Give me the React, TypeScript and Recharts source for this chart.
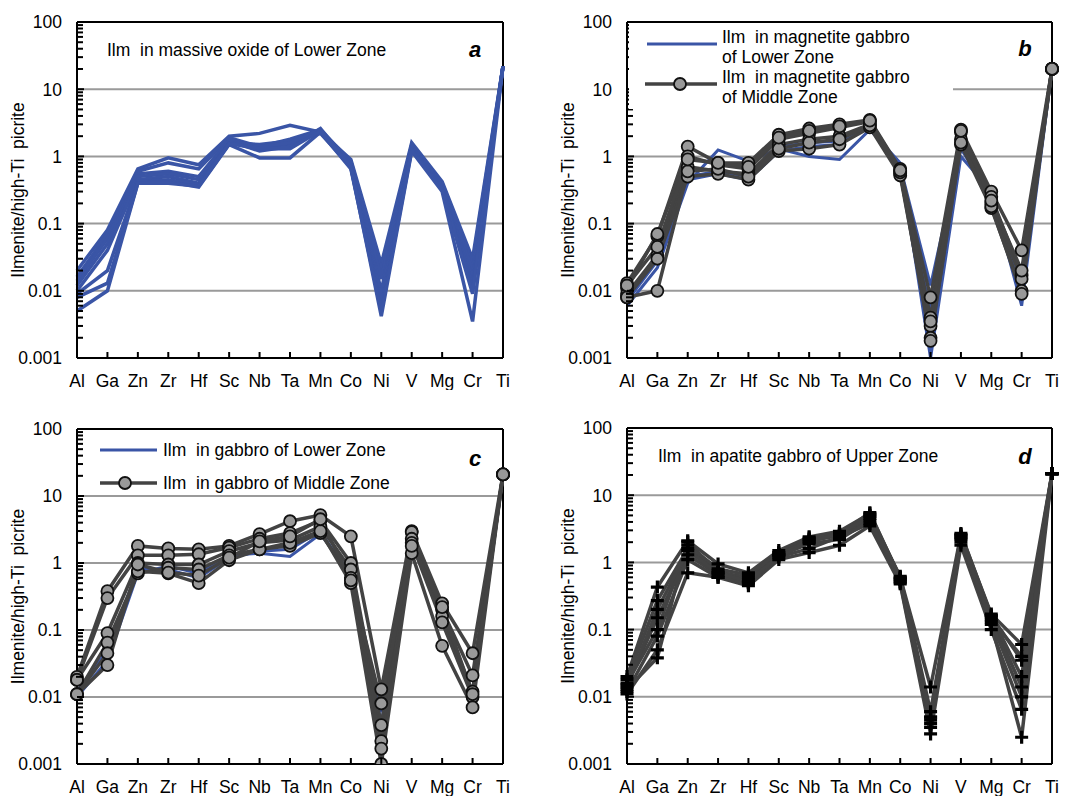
import React from "react";
import { LineChart, Line, XAxis, YAxis, ReferenceLine } from "recharts";

const elements = ["Al", "Ga", "Zn", "Zr", "Hf", "Sc", "Nb", "Ta", "Mn", "Co", "Ni", "V", "Mg", "Cr", "Ti"];
const majorTicks = [0.001, 0.01, 0.1, 1, 10, 100];
const gridValues = [0.01, 0.1, 1, 10];

// a: Ilm in massive oxide of Lower Zone
const massiveOxideLZ = [
  [0.02, 0.08, 0.65, 0.95, 0.75, 2.0, 2.2, 2.9, 2.3, 0.9, 0.025, 1.6, 0.42, 0.03, 22],
  [0.016, 0.07, 0.6, 0.8, 0.65, 1.9, 1.4, 1.8, 2.5, 0.85, 0.02, 1.5, 0.4, 0.025, 22],
  [0.014, 0.06, 0.55, 0.6, 0.5, 1.8, 1.3, 1.5, 2.4, 0.8, 0.015, 1.45, 0.38, 0.02, 22],
  [0.012, 0.05, 0.5, 0.55, 0.45, 1.7, 1.2, 1.4, 2.6, 0.75, 0.01, 1.4, 0.36, 0.015, 22],
  [0.01, 0.04, 0.45, 0.5, 0.4, 1.6, 1.5, 1.7, 2.2, 0.7, 0.008, 1.35, 0.35, 0.012, 22],
  [0.009, 0.02, 0.42, 0.45, 0.38, 1.55, 1.4, 1.6, 2.5, 0.68, 0.006, 1.3, 0.33, 0.01, 22],
  [0.008, 0.013, 0.4, 0.42, 0.35, 1.5, 0.95, 0.95, 2.3, 0.65, 0.005, 1.25, 0.32, 0.009, 22],
  [0.005, 0.01, 0.4, 0.4, 0.36, 1.55, 1.3, 1.3, 2.4, 0.7, 0.0042, 1.2, 0.3, 0.0035, 22],
];

// b: Ilm in magnetite gabbro
const magGabbroLZ = [
  [0.006, 0.022, 0.4, 1.25, 0.85, 1.3, 1.0, 0.9, 2.5, 0.8, 0.001, 1.0, 0.3, 0.006, 20],
  [0.007, 0.028, 0.45, 0.55, 0.45, 1.2, 1.4, 1.5, 2.8, 0.7, 0.012, 1.3, 0.25, 0.01, 20],
  [0.008, 0.035, 0.5, 0.6, 0.5, 1.4, 1.6, 1.7, 2.9, 0.6, 0.005, 1.4, 0.22, 0.012, 20],
];
const magGabbroMZ = [
  [0.013, 0.065, 1.4, 0.8, 0.8, 2.1, 2.6, 3.0, 3.5, 0.65, 0.008, 2.5, 0.3, 0.04, 20],
  [0.011, 0.07, 1.0, 0.75, 0.65, 1.8, 2.2, 2.7, 3.3, 0.6, 0.004, 2.3, 0.25, 0.017, 20],
  [0.009, 0.034, 0.7, 0.6, 0.55, 1.5, 1.8, 2.0, 3.0, 0.55, 0.003, 1.8, 0.2, 0.015, 20],
  [0.008, 0.03, 0.5, 0.55, 0.45, 1.2, 1.3, 1.5, 2.7, 0.52, 0.002, 1.5, 0.17, 0.01, 20],
  [0.008, 0.01, 0.6, 0.65, 0.5, 1.3, 1.6, 1.8, 2.9, 0.58, 0.0018, 1.6, 0.18, 0.009, 20],
  [0.012, 0.045, 0.9, 0.8, 0.7, 1.9, 2.4, 2.8, 3.4, 0.62, 0.0035, 2.4, 0.22, 0.02, 20],
];

// c: Ilm in gabbro
const gabbroLZ = [
  [0.01, 0.035, 0.7, 0.9, 0.7, 1.3, 1.4, 1.25, 2.7, 0.7, 0.006, 1.9, 0.18, 0.01, 21],
  [0.012, 0.05, 0.8, 0.8, 0.6, 1.2, 1.5, 1.6, 3.0, 0.6, 0.004, 2.1, 0.15, 0.012, 21],
];
const gabbroMZ = [
  [0.02, 0.38, 1.8, 1.65, 1.6, 1.8, 2.7, 4.2, 5.2, 2.5, 0.013, 3.0, 0.25, 0.045, 21],
  [0.018, 0.3, 1.3, 1.3, 1.35, 1.7, 2.3, 2.8, 4.3, 1.0, 0.0038, 2.9, 0.2, 0.021, 21],
  [0.018, 0.09, 1.0, 0.95, 0.95, 1.5, 2.0, 2.2, 3.5, 0.8, 0.0022, 2.3, 0.16, 0.012, 21],
  [0.011, 0.065, 0.7, 0.85, 0.8, 1.3, 1.6, 1.8, 2.8, 0.6, 0.0017, 2.0, 0.13, 0.01, 21],
  [0.011, 0.045, 0.75, 0.7, 0.5, 1.1, 1.6, 2.0, 3.0, 0.5, 0.001, 1.4, 0.058, 0.007, 21],
  [0.011, 0.03, 0.95, 0.72, 0.65, 1.2, 2.1, 2.5, 4.5, 0.55, 0.008, 1.8, 0.22, 0.011, 21],
];

// d: Ilm in apatite gabbro of Upper Zone
const apatiteGabbroUZ = [
  [0.02, 0.43, 2.1, 0.95, 0.7, 1.5, 2.4, 2.9, 5.3, 0.6, 0.014, 2.6, 0.17, 0.06, 21],
  [0.018, 0.27, 1.6, 0.75, 0.55, 1.4, 2.3, 2.7, 5.0, 0.55, 0.005, 2.5, 0.16, 0.035, 21],
  [0.015, 0.15, 1.3, 0.65, 0.5, 1.3, 2.1, 2.5, 4.5, 0.5, 0.0035, 2.3, 0.15, 0.014, 21],
  [0.012, 0.08, 1.1, 0.6, 0.45, 1.1, 1.4, 1.8, 3.5, 0.48, 0.0028, 1.8, 0.1, 0.0065, 21],
  [0.011, 0.05, 0.7, 0.6, 0.5, 1.2, 1.6, 2.4, 3.8, 0.52, 0.005, 2.0, 0.12, 0.0025, 21],
  [0.013, 0.038, 2.0, 0.7, 0.6, 1.3, 2.2, 2.6, 5.5, 0.58, 0.004, 2.7, 0.16, 0.02, 21],
  [0.016, 0.1, 1.8, 0.8, 0.65, 1.35, 2.0, 2.7, 4.8, 0.62, 0.006, 2.4, 0.14, 0.04, 21],
  [0.014, 0.2, 1.5, 0.7, 0.52, 1.25, 1.9, 2.2, 4.2, 0.56, 0.0045, 2.2, 0.13, 0.01, 21],
];

const FONT = "'Liberation Sans', Arial, sans-serif";
const BLUE = "#3a55a6";
const DARK = "#434343";

const allTicks: number[] = [];
majorTicks.forEach((m, i) => {
  allTicks.push(m);
  if (i < majorTicks.length - 1) for (let k = 2; k <= 9; k++) allTicks.push(+(m * k).toPrecision(3));
});

const YTick = (p: any) => {
  const { x, y, payload } = p;
  const v = payload.value;
  const major = majorTicks.includes(v);
  if (!major) return <line x1={x - 1} x2={x + 6} y1={y} y2={y} stroke="#000" strokeWidth={2} />;
  return (
    <g>
      <line x1={x} x2={x + 7} y1={y} y2={y} stroke="#000" strokeWidth={2} />
      <text x={x - 15} y={y} dy="0.36em" textAnchor="end" fontSize={17.5} fill="#000" fontFamily={FONT}>
        {String(v)}
      </text>
    </g>
  );
};

const XTick = (p: any) => {
  const { x, y, payload } = p;
  return (
    <g>
      <line x1={x} x2={x} y1={y} y2={y - 6} stroke="#000" strokeWidth={2} />
      <text x={x} y={y + 29} textAnchor="middle" fontSize={17.5} fill="#000" fontFamily={FONT}>
        {payload.value}
      </text>
    </g>
  );
};

const PlusDot = (p: any) => {
  const { cx, cy, index } = p;
  if (cx == null || cy == null) return <g key={index} />;
  return (
    <path
      key={index}
      d={`M${cx - 6.5},${cy}H${cx + 6.5}M${cx},${cy - 6.5}V${cy + 6.5}`}
      stroke="#000"
      strokeWidth={3.2}
      fill="none"
    />
  );
};

type PanelProps = {
  left: number;
  top: number;
  width: number;
  height: number;
  margin: { top: number; right: number; bottom: number; left: number };
  yAxisWidth: number;
  labelX: number;
  lower: number[][];
  middle: number[][];
  marker: "circle" | "plus";
};

function Panel({ left, top, width, height, margin, yAxisWidth, labelX, lower, middle, marker }: PanelProps) {
  const rows = elements.map((el, i) => {
    const r: any = { el };
    lower.forEach((s, k) => (r["l" + k] = s[i]));
    middle.forEach((s, k) => (r["m" + k] = s[i]));
    return r;
  });
  return (
    <div style={{ position: "absolute", left, top }}>
      <LineChart width={width} height={height} data={rows} margin={margin} style={{ fontFamily: FONT }}>
        {gridValues.map((g) => (
          <ReferenceLine key={g} y={g} stroke="#9a9a9a" strokeWidth={2} />
        ))}
        <ReferenceLine y={100} stroke="#000" strokeWidth={2} />
        <ReferenceLine x="Ti" stroke="#000" strokeWidth={2} />
        {lower.map((_, k) => (
          <Line
            key={"l" + k}
            dataKey={"l" + k}
            type="linear"
            stroke={BLUE}
            strokeWidth={middle.length ? 3 : 3.5}
            dot={false}
            isAnimationActive={false}
          />
        ))}
        {middle.map((_, k) => (
          <Line
            key={"m" + k}
            dataKey={"m" + k}
            type="linear"
            stroke={DARK}
            strokeWidth={3.5}
            dot={marker === "circle" ? { r: 6, fill: "#999", stroke: "#111", strokeWidth: 1.8 } : <PlusDot />}
            isAnimationActive={false}
          />
        ))}
        <XAxis
          dataKey="el"
          axisLine={{ stroke: "#000", strokeWidth: 2 }}
          tickLine={false}
          tickSize={0}
          tickMargin={0}
          interval={0}
          height={32}
          tick={<XTick />}
        />
        <YAxis
          scale="log"
          domain={[0.001, 100]}
          allowDataOverflow
          ticks={allTicks}
          interval={0}
          width={yAxisWidth}
          axisLine={{ stroke: "#000", strokeWidth: 2 }}
          tickLine={false}
          tickSize={0}
          tickMargin={0}
          tick={<YTick />}
          label={{
            value: "Ilmenite/high-Ti\u00a0\u00a0picrite",
            angle: -90,
            position: "insideLeft",
            offset: labelX,
            style: { textAnchor: "middle", fontSize: 17.5, fill: "#000", fontFamily: FONT },
          }}
        />
      </LineChart>
    </div>
  );
}

export default function App() {
  const txt = { fontFamily: FONT, fontSize: 17.5, fill: "#000", style: { whiteSpace: "pre" as const } };
  const letter = { fontFamily: FONT, fontSize: 22, fontWeight: 700, fontStyle: "italic", fill: "#000" } as const;
  return (
    <div style={{ position: "absolute", left: 0, top: 0, width: 1085, height: 796, background: "#fff", overflow: "hidden" }}>
      <Panel left={0} top={0} width={520} height={390} margin={{ top: 22, right: 17, bottom: 0, left: 0 }}
        yAxisWidth={77} labelX={18} lower={massiveOxideLZ} middle={[]} marker="circle" />
      <Panel left={540} top={0} width={530} height={390} margin={{ top: 22, right: 18, bottom: 0, left: 0 }}
        yAxisWidth={87} labelX={28} lower={magGabbroLZ} middle={magGabbroMZ} marker="circle" />
      <Panel left={0} top={400} width={520} height={396} margin={{ top: 29, right: 17, bottom: 0, left: 0 }}
        yAxisWidth={77} labelX={18} lower={gabbroLZ} middle={gabbroMZ} marker="circle" />
      <Panel left={540} top={400} width={530} height={396} margin={{ top: 28, right: 18, bottom: 0, left: 0 }}
        yAxisWidth={87} labelX={28} lower={[]} middle={apatiteGabbroUZ} marker="plus" />

      <svg width={1085} height={796} style={{ position: "absolute", left: 0, top: 0, pointerEvents: "none" }}>
        {/* a */}
        <text x={107} y={56} {...txt}>Ilm  in massive oxide of Lower Zone</text>
        <text x={475} y={57} textAnchor="middle" {...letter}>a</text>
        {/* b legend */}
        <rect x={629} y={24} width={324} height={85} fill="#fff" />
        <line x1={647} x2={717} y1={44} y2={44} stroke={BLUE} strokeWidth={3} />
        <text x={722} y={43} {...txt}>Ilm  in magnetite gabbro</text>
        <text x={722} y={63} {...txt}>of Lower Zone</text>
        <line x1={645} x2={717} y1={84} y2={84} stroke={DARK} strokeWidth={3.5} />
        <circle cx={680} cy={84} r={6} fill="#999" stroke="#111" strokeWidth={1.8} />
        <text x={722} y={83} {...txt}>Ilm  in magnetite gabbro</text>
        <text x={722} y={103} {...txt}>of Middle Zone</text>
        <text x={1025} y={56} textAnchor="middle" {...letter}>b</text>
        {/* c legend */}
        <line x1={100} x2={157} y1={450} y2={450} stroke={BLUE} strokeWidth={3} />
        <text x={163} y={456} {...txt}>Ilm  in gabbro of Lower Zone</text>
        <line x1={100} x2={157} y1={483} y2={483} stroke={DARK} strokeWidth={3.5} />
        <circle cx={125} cy={483} r={6} fill="#999" stroke="#111" strokeWidth={1.8} />
        <text x={163} y={489} {...txt}>Ilm  in gabbro of Middle Zone</text>
        <text x={475} y={466} textAnchor="middle" {...letter}>c</text>
        {/* d */}
        <text x={658} y={462} {...txt}>Ilm  in apatite gabbro of Upper Zone</text>
        <text x={1025} y={464} textAnchor="middle" {...letter}>d</text>
      </svg>
    </div>
  );
}
